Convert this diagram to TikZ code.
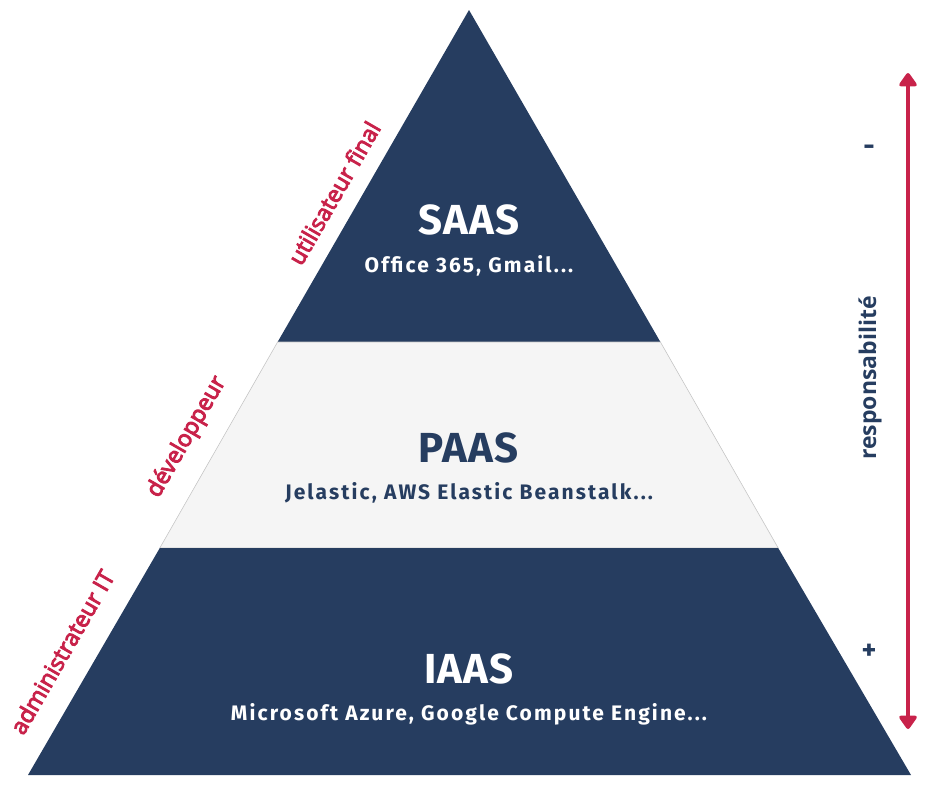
\documentclass[tikz,border=0pt]{standalone}
\usepackage{fontspec}
\setmainfont{Fira Sans}
\newfontfamily\lblfont{Open Sans}
\newfontfamily\lblfontb[FakeBold=4]{Open Sans}
\newfontfamily\subfont[LetterSpace=10]{Fira Sans}
\newfontfamily\titfont[LetterSpace=3]{Fira Sans}
\usetikzlibrary{arrows.meta}
\definecolor{navy}{HTML}{263D60}
\definecolor{paleg}{HTML}{F5F5F5}
\definecolor{crim}{HTML}{C8224A}
\tikzset{
  title/.style={text=white,font=\titfont\fontsize{42}{46}\selectfont\bfseries,anchor=center,inner sep=0pt},
  sub/.style={text=white,font=\subfont\fontsize{21}{24}\selectfont\bfseries,anchor=center,inner sep=0pt},
  side/.style={text=crim,font=\lblfontb\fontsize{23}{26}\selectfont,rotate=60.04,anchor=center,inner sep=0pt},
  sign/.style={text=navy,font=\fontsize{28}{30}\selectfont\bfseries,inner sep=0pt}
}
\begin{document}
\begin{tikzpicture}[x=1pt,y=-1pt]
\useasboundingbox (0,0) rectangle (940,788);
\coordinate (apex) at (469,10);
\coordinate (bl) at (28,775);
\coordinate (br) at (911,775);
\coordinate (l1) at (277.6,342);
\coordinate (r1) at (660.4,342);
\coordinate (l2) at (159.8,548);
\coordinate (r2) at (778.2,548);
% bands
\fill[navy] (apex) -- (r1) -- (l1) -- cycle;
\filldraw[fill=paleg,draw=gray!45,line width=0.6pt] (l1) -- (r1) -- (r2) -- (l2) -- cycle;
\fill[navy] (l2) -- (r2) -- (br) -- (bl) -- cycle;
% texts
\node[title] (saas) at (469,220) {SAAS};
\node[sub] (saassub) at (469,266) {Office 365, Gmail...};
\node[title,text=navy] (paas) at (469,448) {PAAS};
\node[sub,text=navy] (paassub) at (469,493) {Jelastic, AWS Elastic Beanstalk...};
\node[title] (iaas) at (469,669) {IAAS};
\node[sub] (iaassub) at (469,714) {Microsoft Azure, Google Compute Engine...};
% side labels
\node[side] (u) at (334,193) {utilisateur final};
\node[side] (d) at (187,437) {développeur};
\node[side] (a) at (62,652) {administrateur IT};
% responsibility arrow
\coordinate (atop) at (908,73);
\coordinate (abot) at (908,729);
\draw[crim,line width=4pt,{Triangle[length=15pt,width=20pt,round]}-{Triangle[length=15pt,width=20pt,round]}] (atop) -- (abot);
\node[sign] (minus) at (869,150) {-};
\node[sign] (plus) at (869,652) {+};
\node[text=navy,font=\lblfont\fontsize{23}{26}\selectfont\bfseries,rotate=90,inner sep=0pt] (resp) at (870,378) {responsabilité};
\end{tikzpicture}
\end{document}
